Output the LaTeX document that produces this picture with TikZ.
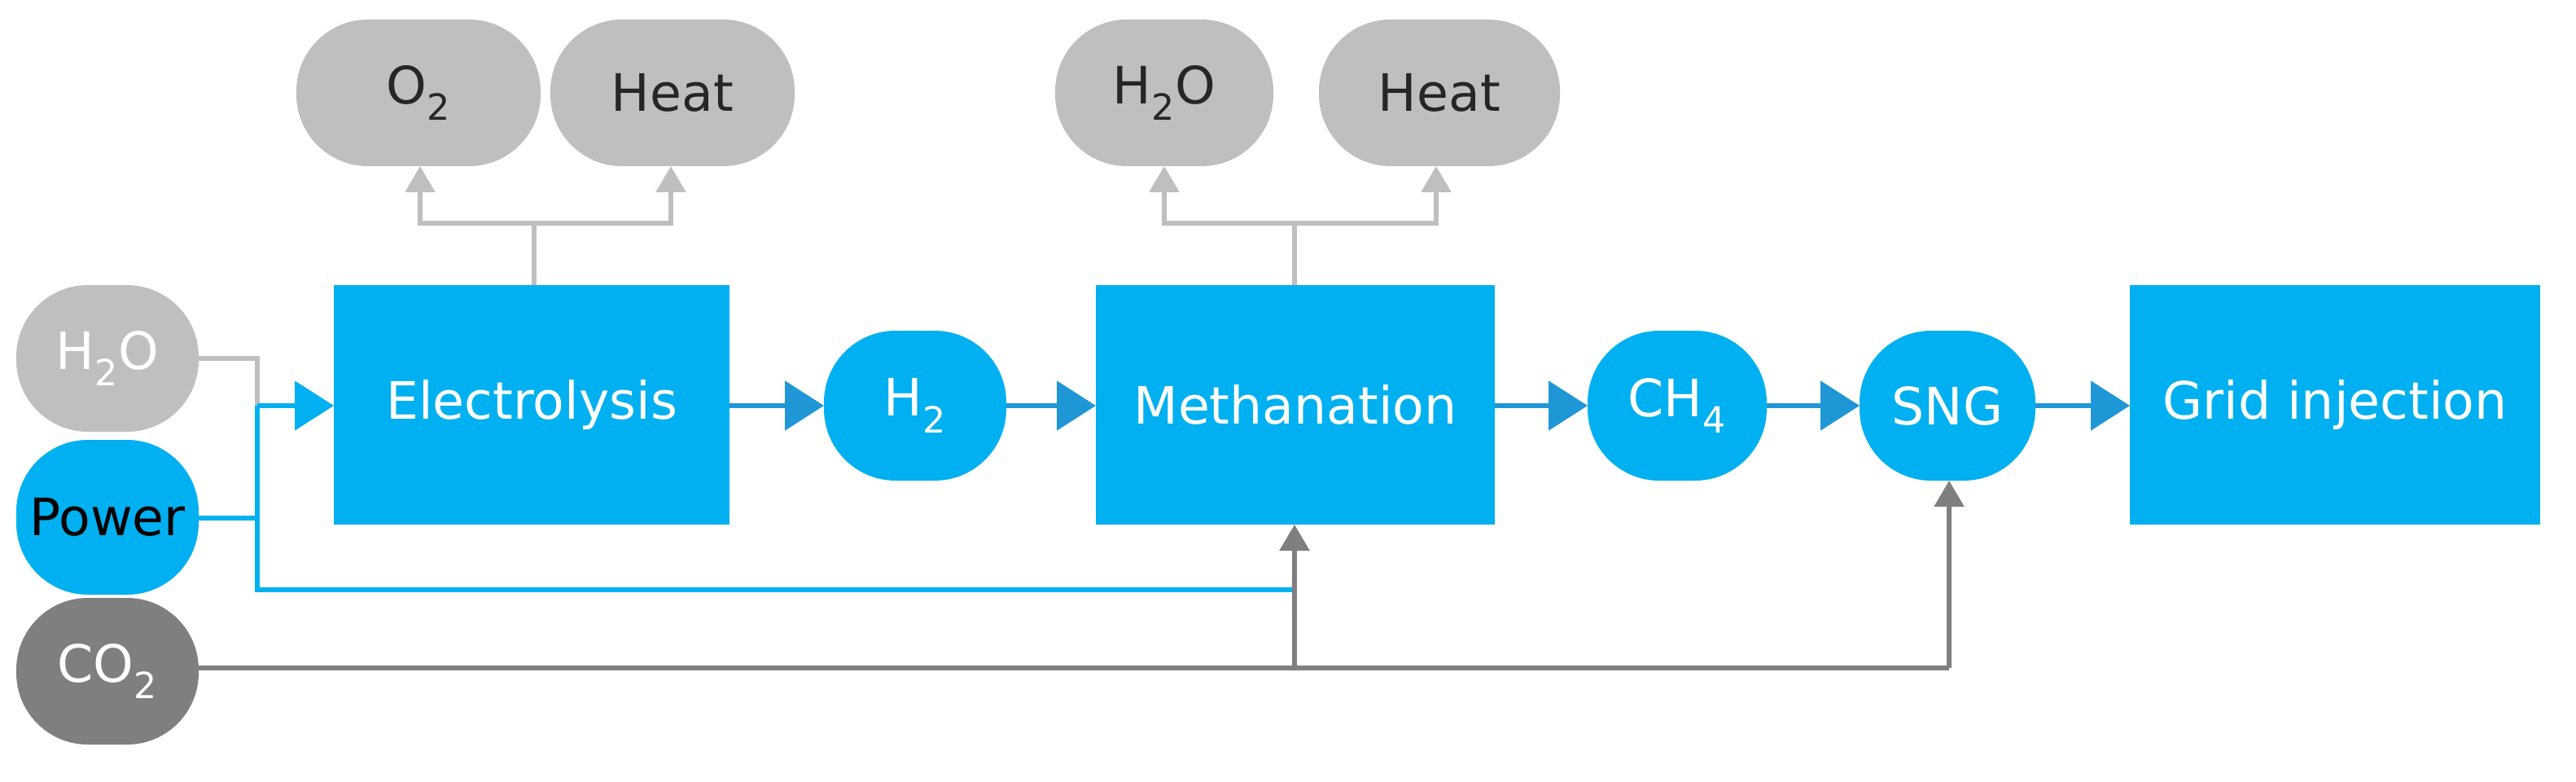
\documentclass[tikz,border=0pt]{standalone}
\usepackage{fontspec}
\setmainfont{DejaVu Sans}
\usetikzlibrary{arrows.meta}
\definecolor{cy}{HTML}{00B0F0}
\definecolor{lg}{HTML}{BFBFBF}
\definecolor{dg}{HTML}{7F7F7F}
\definecolor{ab}{HTML}{1F97D6}
\newcommand{\sub}[1]{\textsubscript{#1}}
\begin{document}
\begin{tikzpicture}[x=0.05cm,y=-0.05cm,
 box/.style={fill=cy,draw=none,text=white,font=\fontsize{45}{54}\selectfont},
 pill/.style={box,rounded corners=2.2cm},
 gpill/.style={pill,fill=lg,text=black!85},
 ln/.style={line width=4pt},
 arr/.style={draw=ab,ln,-{Triangle[length=1.2cm,width=1.5cm]}},
 garr/.style={draw=lg,ln,-{Triangle[length=0.8cm,width=0.9cm]}},
 darr/.style={draw=dg,ln,-{Triangle[length=0.8cm,width=0.9cm]}}]
\useasboundingbox (0,0) rectangle (1582,480);
\path[gpill] (182,12) rectangle (332,102) node[midway] (o2) {O\sub{2}};
\path[gpill] (338,12) rectangle (488,102) node[midway] (h1) {Heat};
\path[gpill] (648,12) rectangle (782,102) node[midway] (w2) {H\sub{2}O};
\path[gpill] (810,12) rectangle (958,102) node[midway] (h2) {Heat};
\path[gpill,text=white] (10,175) rectangle (122,265) node[midway] (win) {H\sub{2}O};
\path[pill,text=black] (10,270) rectangle (122,365) node[midway] (pw) {Power};
\path[pill,fill=dg] (10,367) rectangle (122,457) node[midway] (co) {CO\sub{2}};
\path[box] (205,175) rectangle (448,322) node[midway] (el) {Electrolysis};
\path[pill] (506,203) rectangle (618,295) node[midway] (hh) {H\sub{2}};
\path[box] (673,175) rectangle (918,322) node[midway] (me) {Methanation};
\path[pill] (975,203) rectangle (1085,295) node[midway] (ch) {CH\sub{4}};
\path[pill] (1142,203) rectangle (1250,295) node[midway] (sn) {SNG};
\path[box] (1308,175) rectangle (1560,322) node[midway] (gr) {Grid injection};
\coordinate (a1) at (328,137);
\coordinate (a2) at (795,137);
% top branches
\draw[lg,ln] (328,175) -- (a1);
\draw[garr] (a1) -| (258,102);
\draw[garr] (a1) -| (412,102);
\draw[lg,ln] (795,175) -- (a2);
\draw[garr] (a2) -| (715,102);
\draw[garr] (a2) -| (882,102);
% inputs
\draw[lg,ln] (122,220) -| (158,249);
\draw[cy,ln] (122,318) -| (158,249);
\draw[cy,ln,-{Triangle[length=1.2cm,width=1.5cm]}] (158,249) -- (205,249);
\draw[cy,ln] (158,318) |- (795,362);
\draw[dg,ln] (122,410) -- (1197,410);
\draw[darr] (795,410) -- (795,322);
\draw[darr] (1197,410) -- (1197,295);
% main chain
\draw[arr] (448,249) -- (506,249);
\draw[arr] (618,249) -- (673,249);
\draw[arr] (918,249) -- (975,249);
\draw[arr] (1085,249) -- (1142,249);
\draw[arr] (1250,249) -- (1308,249);
\end{tikzpicture}
\end{document}
